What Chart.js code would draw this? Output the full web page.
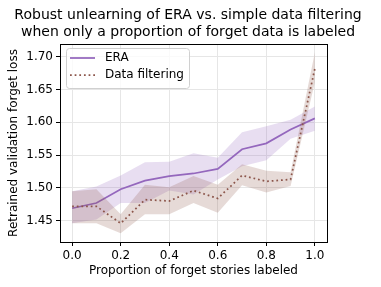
<!DOCTYPE html>
<html>
<head>
<meta charset="utf-8">
<script src="https://cdn.jsdelivr.net/npm/chart.js@4"></script>
<style>
    html, body { margin: 0; padding: 0; background: #fff; }
    #wrap { width: 381px; height: 287px; }
</style>
</head>
<body>
<div id="wrap"><canvas id="myChart" width="381" height="287"></canvas></div>
<script>
// proportion of forget stories labeled
const proportions = [0.0, 0.1, 0.2, 0.3, 0.4, 0.5, 0.6, 0.7, 0.8, 0.9, 1.0];

const eraMean  = [1.469, 1.477, 1.498, 1.511, 1.518, 1.522, 1.529, 1.559, 1.568, 1.589, 1.606];
const eraUpper = [1.495, 1.502, 1.519, 1.539, 1.540, 1.553, 1.546, 1.585, 1.594, 1.604, 1.624];
const eraLower = [1.446, 1.452, 1.477, 1.477, 1.496, 1.490, 1.513, 1.533, 1.542, 1.575, 1.587];

const filtMean  = [1.472, 1.472, 1.446, 1.482, 1.480, 1.496, 1.484, 1.519, 1.510, 1.513, 1.682];
const filtUpper = [1.495, 1.498, 1.460, 1.505, 1.501, 1.518, 1.505, 1.536, 1.526, 1.524, 1.707];
const filtLower = [1.446, 1.446, 1.431, 1.460, 1.460, 1.477, 1.462, 1.504, 1.493, 1.503, 1.661];

const xTicks = [0.0, 0.2, 0.4, 0.6, 0.8, 1.0];
const yTicks = [1.45, 1.50, 1.55, 1.60, 1.65, 1.70];

const seriesNames = ["ERA", "Data filtering"];
const titleLines = ["Robust unlearning of ERA vs. simple data filtering", "when only a proportion of forget data is labeled"];
const xLabel = "Proportion of forget stories labeled";
const yLabel = "Retrained validation forget loss";

const purple = "#9467bd";
const brown = "#8c564b";
const font = "DejaVu Sans";

function pts(arr) {
    return arr.map((v, i) => ({ x: proportions[i], y: v }))
}

// top/right spines + matplotlib style legend box
const framePlugin = {
    id: "frame",
    afterDraw(chart) {
        const { ctx, chartArea: a } = chart;
        ctx.save();
        ctx.strokeStyle = "#000";
        ctx.lineWidth = 1;
        ctx.strokeRect(Math.round(a.left) + 0.5, Math.round(a.top) + 0.5, Math.round(a.right - a.left), Math.round(a.bottom - a.top));

        // legend
        let lx = a.left + 6, ly = a.top + 4, lw = 123, lh = 40;
        ctx.beginPath();
        ctx.roundRect(lx + 0.5, ly + 0.5, lw, lh, 3);
        ctx.fillStyle = "rgba(255,255,255,0.8)";
        ctx.fill();
        ctx.strokeStyle = "#d0d0d0";
        ctx.stroke();

        const items = [
            { name: seriesNames[0], color: purple, dash: [] },
            { name: seriesNames[1], color: brown, dash: [1.75, 2.9] },
        ];
        items.forEach((it, i) => {
            let y = ly + 10 + i * 17;
            ctx.beginPath();
            ctx.setLineDash(it.dash);
            ctx.strokeStyle = it.color;
            ctx.lineWidth = 1.75;
            ctx.moveTo(lx + 4, y);
            ctx.lineTo(lx + 29, y);
            ctx.stroke();
            ctx.setLineDash([]);
            ctx.fillStyle = "#000";
            ctx.font = "12px '" + font + "'";
            ctx.textBaseline = "middle";
            ctx.fillText(it.name, lx + 39, y);
        });
        ctx.restore();
    }
}

const ctx = document.getElementById("myChart");

new Chart(ctx, {
    type: "line",
    data: {
        datasets: [
            { label: "eraUpper", data: pts(eraUpper), borderWidth: 0, pointRadius: 0, fill: false, order: 4 },
            { label: "eraLower", data: pts(eraLower), borderWidth: 0, pointRadius: 0, fill: 0,
              backgroundColor: "rgba(148,103,189,0.22)", order: 4 },
            { label: seriesNames[0], data: pts(eraMean), borderColor: purple, borderWidth: 1.75,
              pointRadius: 0, fill: false, order: 3 },
            { label: "filtUpper", data: pts(filtUpper), borderWidth: 0, pointRadius: 0, fill: false, order: 2 },
            { label: "filtLower", data: pts(filtLower), borderWidth: 0, pointRadius: 0, fill: 3,
              backgroundColor: "rgba(140,86,75,0.22)", order: 2 },
            { label: seriesNames[1], data: pts(filtMean), borderColor: brown, borderWidth: 1.75,
              borderDash: [1.75, 2.9], pointRadius: 0, fill: false, order: 1 },
        ]
    },
    options: {
        responsive: false,
        animation: false,
        layout: { padding: { left: 0, right: 5, top: 0, bottom: 0 } },
        plugins: {
            legend: { display: false },
            tooltip: { enabled: false },
            title: {
                display: true,
                text: titleLines,
                color: "#000",
                font: { family: font, size: 14, weight: "normal", lineHeight: 1.2 },
                padding: { top: 7, bottom: 3.4 }
            }
        },
        scales: {
            x: {
                type: "linear",
                min: -0.05,
                max: 1.05,
                afterFit: (scale) => { scale.height = 45 },
                afterBuildTicks: (scale) => { scale.ticks = xTicks.map(v => ({ value: v })) },
                ticks: {
                    color: "#000",
                    padding: 3,
                    maxRotation: 0,
                    font: { family: font, size: 12 },
                    callback: (v) => v.toFixed(1)
                },
                grid: { color: "#e6e6e6", tickColor: "#000", tickLength: 4, lineWidth: 1 },
                border: { color: "#000", width: 1 },
                title: {
                    display: true,
                    text: xLabel,
                    color: "#000",
                    font: { family: font, size: 12 },
                    padding: { top: 0, bottom: 9 }
                }
            },
            y: {
                type: "linear",
                min: 1.4175,
                max: 1.7195,
                afterFit: (scale) => { scale.width = 60 },
                afterBuildTicks: (scale) => { scale.ticks = yTicks.map(v => ({ value: v })) },
                ticks: {
                    color: "#000",
                    padding: 3,
                    font: { family: font, size: 12 },
                    callback: (v) => v.toFixed(2)
                },
                grid: { color: "#e6e6e6", tickColor: "#000", tickLength: 4, lineWidth: 1 },
                border: { color: "#000", width: 1 },
                title: {
                    display: true,
                    text: yLabel,
                    color: "#000",
                    font: { family: font, size: 12 },
                    padding: { top: 7, bottom: 0 }
                }
            },
            // empty space on the right of the axes
            yRight: {
                type: "linear",
                position: "right",
                afterFit: (scale) => { scale.width = 49 },
                ticks: { display: false },
                grid: { display: false, drawTicks: false },
                border: { display: false }
            }
        }
    },
    plugins: [framePlugin]
});
</script>
</body>
</html>
